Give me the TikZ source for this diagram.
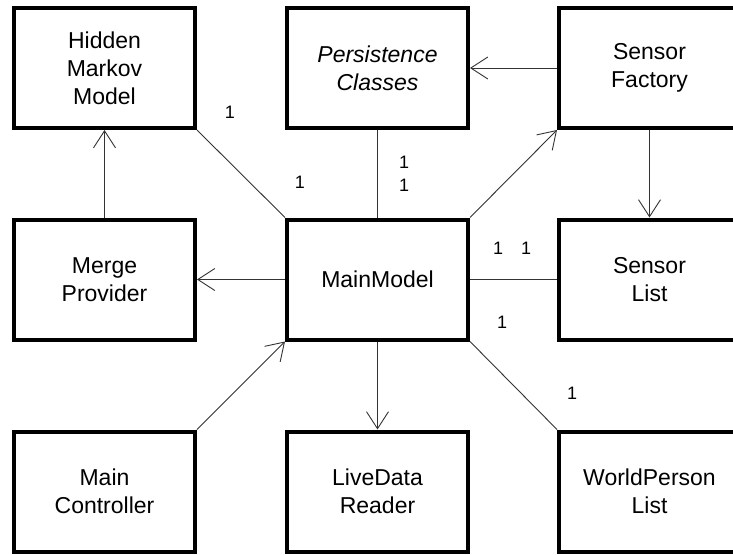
\documentclass[tikz,border=0pt]{standalone}
\usepackage{fontspec}
\setmainfont{Liberation Sans}
\usetikzlibrary{arrows.meta}
\tikzset{
  cls/.style={draw=black, line width=4pt, fill=white, minimum width=181pt, minimum height=120pt,
    align=center, font=\fontsize{23}{28}\selectfont, inner sep=0pt},
  conn/.style={draw=black!80, line width=0.9pt},
  arr/.style={conn, -{Straight Barb[length=17pt,width=22pt,line width=0.9pt]}},
  mult/.style={font=\fontsize{18}{20}\selectfont, inner sep=0pt}
}
\begin{document}
\begin{tikzpicture}[x=1pt,y=-1pt]
\useasboundingbox (0,0) rectangle (733,554);
\fill[white] (0,0) rectangle (733,554);
\clip (0,0) rectangle (733,554);
% nodes
\node[cls] (hmm) at (104.5,68) {Hidden\\Markov\\Model};
\node[cls] (pers) at (377.5,68) {\itshape Persistence\\\itshape Classes};
\node[cls] (sfac) at (649.5,68) {Sensor\\Factory};
\node[cls] (merge) at (104.5,279.5) {Merge\\Provider};
\node[cls] (main) at (377.5,279.5) {MainModel};
\node[cls] (slist) at (649.5,279.5) {Sensor\\List};
\node[cls] (ctrl) at (104.5,491.5) {Main\\Controller};
\node[cls] (live) at (377.5,491.5) {LiveData\\Reader};
\node[cls] (world) at (649.5,491.5) {WorldPerson\\List};
% connectors
\draw[arr] (merge.north) -- (hmm.south);
\draw[conn] (main.north west) -- (hmm.south east);
\draw[conn] (main.north) -- (pers.south);
\draw[arr] (main.north east) -- (sfac.south west);
\draw[arr] (sfac.west) -- (pers.east);
\draw[arr] (sfac.south) -- (slist.north);
\draw[arr] (main.west) -- (merge.east);
\draw[conn] (main.east) -- (slist.west);
\draw[conn] (main.south east) -- (world.north west);
\draw[arr] (ctrl.north east) -- (main.south west);
\draw[arr] (main.south) -- (live.north);
% multiplicities
\node[mult] (m1) at (230,112) {1};
\node[mult] (m2) at (300,182) {1};
\node[mult] (m3) at (404,162) {1};
\node[mult] (m4) at (404,185) {1};
\node[mult] (m5) at (498,248) {1};
\node[mult] (m6) at (526,248) {1};
\node[mult] (m7) at (502,322) {1};
\node[mult] (m8) at (572,393) {1};
\end{tikzpicture}
\end{document}
